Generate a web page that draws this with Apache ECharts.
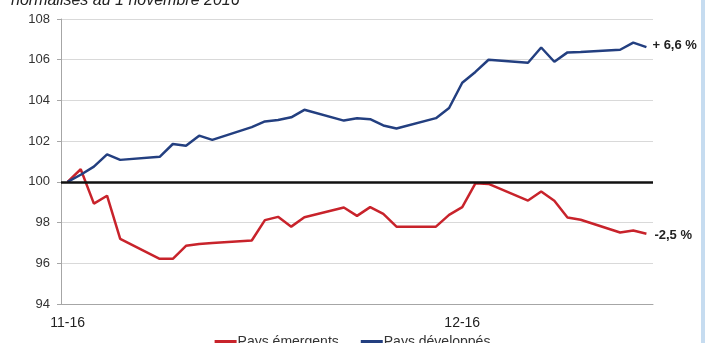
<!DOCTYPE html>
<html>
<head>
<meta charset="utf-8">
<script src="https://cdn.jsdelivr.net/npm/echarts@6/dist/echarts.min.js"></script>
<style>
  html, body { margin: 0; padding: 0; background: #fff; }
  #chart { width: 705px; height: 343px; }
</style>
</head>
<body>
<div id="chart"></div>
<script>
// jours calendaires du 1er novembre au 15 decembre 2016 (null = pas de cotation)
const days = []
for (let i = 0; i < 45; i++) {
  const d = new Date(Date.UTC(2016, 10, 1 + i))
  days.push(d.toISOString().slice(0, 10))
}

const emergents = [
  100, 100.62, 98.93, 99.32, 97.2, null, null,
  96.22, 96.22, 96.86, 96.95, 97.0, null, null,
  97.12, 98.12, 98.28, 97.8, 98.26, null, null,
  98.74, 98.33, 98.76, 98.43, 97.8, null, null,
  97.8, 98.38, 98.76, 99.93, 99.9, null, null,
  99.08, 99.53, 99.07, 98.25, 98.14, null, null,
  97.51, 97.61, 97.45
]

const developpes = [
  100, 100.35, 100.75, 101.35, 101.08, null, null,
  101.23, 101.86, 101.77, 102.27, 102.06, null, null,
  102.69, 102.97, 103.04, 103.17, 103.54, null, null,
  103.01, 103.12, 103.08, 102.77, 102.62, null, null,
  103.13, 103.63, 104.87, 105.4, 106.0, null, null,
  105.85, 106.6, 105.9, 106.36, 106.38, null, null,
  106.49, 106.84, 106.62
]

const seriesNames = ['Pays émergents', 'Pays développés']
const endLabels = ['-2,5 %', '+ 6,6 %']
const yTicks = { min: 94, max: 108, interval: 2 }
const baseLevel = 100

const font = 'Liberation Sans, Arial, sans-serif'
const chart = echarts.init(document.getElementById('chart'))

chart.setOption({
  animation: false,
  textStyle: { fontFamily: font },
  title: {
    text: 'normalisés au 1 novembre 2016',
    left: 6,
    top: -12,
    textStyle: {
      fontFamily: font,
      fontStyle: 'italic',
      fontWeight: 'normal',
      fontSize: 16,
      color: '#222'
    }
  },
  graphic: [{
    type: 'rect',
    right: 0,
    top: 0,
    shape: { width: 4, height: 343 },
    style: { fill: '#c6dcf0' }
  }],
  legend: {
    data: seriesNames,
    top: 330,
    left: 'center',
    itemGap: 22,
    itemWidth: 22,
    itemHeight: 4,
    icon: 'rect',
    textStyle: { fontSize: 14, color: '#333', padding: [0, 0, 0, -4] }
  },
  grid: {
    left: 61,
    right: 52,
    top: 19,
    bottom: 39
  },
  xAxis: {
    type: 'category',
    data: days,
    boundaryGap: true,
    axisLine: { lineStyle: { color: '#a6a6a6', width: 1 } },
    axisTick: { interval: 29, length: 5, lineStyle: { color: '#a6a6a6' } },
    axisLabel: {
      interval: 29,
      margin: 12,
      fontSize: 14,
      color: '#222',
      formatter: (v) => v.slice(5, 7) + '-' + v.slice(2, 4)
    }
  },
  yAxis: {
    type: 'value',
    min: yTicks.min,
    max: yTicks.max,
    interval: yTicks.interval,
    axisLine: { show: true, lineStyle: { color: '#a6a6a6', width: 1 } },
    axisTick: { show: true, length: 4, lineStyle: { color: '#a6a6a6' } },
    axisLabel: { fontSize: 13, color: '#333', margin: 11 },
    splitLine: { lineStyle: { color: '#d9d9d9', width: 1 } }
  },
  series: [{
    name: seriesNames[0],
    type: 'line',
    data: emergents,
    connectNulls: true,
    showSymbol: false,
    color: '#c8232b',
    lineStyle: { width: 2.5, color: '#c8232b' },
    endLabel: {
      show: true,
      formatter: endLabels[0],
      distance: 8,
      offset: [0, 2],
      fontSize: 13,
      fontWeight: 'bold',
      color: '#222'
    },
    markLine: {
      silent: true,
      symbol: 'none',
      label: { show: false },
      lineStyle: { color: '#111', width: 2.5, type: 'solid' },
      data: [{ yAxis: baseLevel }]
    },
    z: 3
  }, {
    name: seriesNames[1],
    type: 'line',
    data: developpes,
    connectNulls: true,
    showSymbol: false,
    color: '#233f80',
    lineStyle: { width: 2.5, color: '#233f80' },
    endLabel: {
      show: true,
      formatter: endLabels[1],
      distance: 6,
      offset: [0, -2],
      fontSize: 13,
      fontWeight: 'bold',
      color: '#222'
    },
    z: 3
  }]
})
</script>
</body>
</html>
